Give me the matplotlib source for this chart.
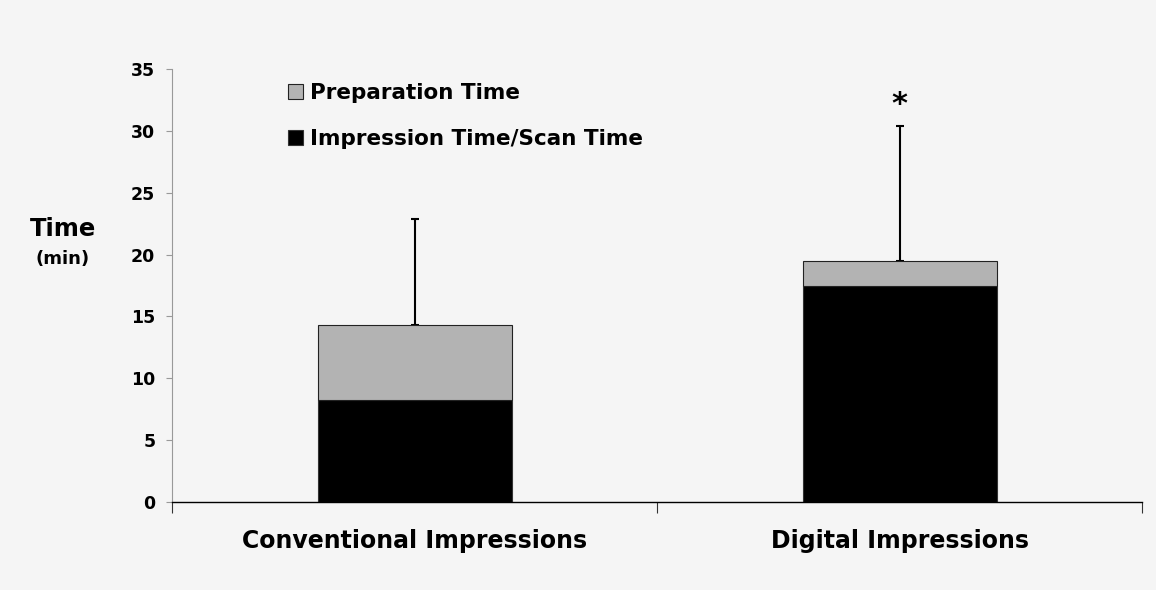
import numpy as np
import matplotlib.pyplot as plt

# values (minutes)
categories = ["Conventional Impressions", "Digital Impressions"]
impression_time = [8.25, 17.45]
preparation_time = [6.1, 2.0]
sd_upper = [8.5, 10.95]

plt.rcParams['font.family'] = ['DejaVu Sans']
plt.rcParams['font.weight'] = 'bold'

bg = "#f5f5f5"
fig = plt.figure(figsize=(11.56, 5.9), dpi=100, facecolor=bg)
ax = fig.add_axes([0.1488, 0.149, 0.8392, 0.734], facecolor=bg)

x = np.arange(len(categories))
totals = np.array(impression_time) + np.array(preparation_time)

ax.bar(x, impression_time, width=0.4, color="black", edgecolor="#333333", linewidth=0.8,
       label="Impression Time/Scan Time", zorder=2)
ax.bar(x, preparation_time, bottom=impression_time, width=0.4, color="#b3b3b3",
       edgecolor="#222222", linewidth=0.8, label="Preparation Time", zorder=2)
ax.errorbar(x, totals, yerr=[np.zeros(len(x)), sd_upper], fmt="none", ecolor="black",
            elinewidth=1.5, capsize=3, capthick=1.5, zorder=1)

# significance marker
ax.text(x[1], totals[1] + sd_upper[1] + 0.6, "*", ha="center", va="bottom", fontsize=22)

ax.set_xlim(-0.5, 1.5)
ax.set_ylim(0, 35)
ax.set_yticks(range(0, 36, 5))
ax.set_xticks([-0.5, 0.5, 1.5])
ax.set_xticklabels([])
ax.tick_params(axis="x", direction="out", length=8, width=0.8, color="#333333")
ax.tick_params(axis="y", direction="out", length=4, width=0.8, color="#999999",
               labelsize=12.5, pad=8)
for lbl in ax.get_yticklabels():
    lbl.set_fontweight("bold")

for i, c in enumerate(categories):
    ax.text(x[i], -2.2, c, ha="center", va="top", fontsize=17, fontweight="bold")

ax.spines["top"].set_visible(False)
ax.spines["right"].set_visible(False)
ax.spines["left"].set_color("#999999")
ax.spines["left"].set_linewidth(0.8)
ax.spines["bottom"].set_color("black")
ax.spines["bottom"].set_linewidth(1.0)

fig.text(0.0545, 0.612, "Time", ha="center", va="center", fontsize=17.5, fontweight="bold")
fig.text(0.0545, 0.561, "(min)", ha="center", va="center", fontsize=13, fontweight="bold")

handles, labels = ax.get_legend_handles_labels()
leg = ax.legend(handles[::-1], labels[::-1], loc="upper left", bbox_to_anchor=(0.1, 1.012),
                frameon=False, fontsize=15.5, handlelength=0.7, handleheight=0.7,
                handletextpad=0.3, labelspacing=1.2)
for t in leg.get_texts():
    t.set_fontweight("bold")

fig.savefig("out.png", dpi=100, facecolor=bg)
